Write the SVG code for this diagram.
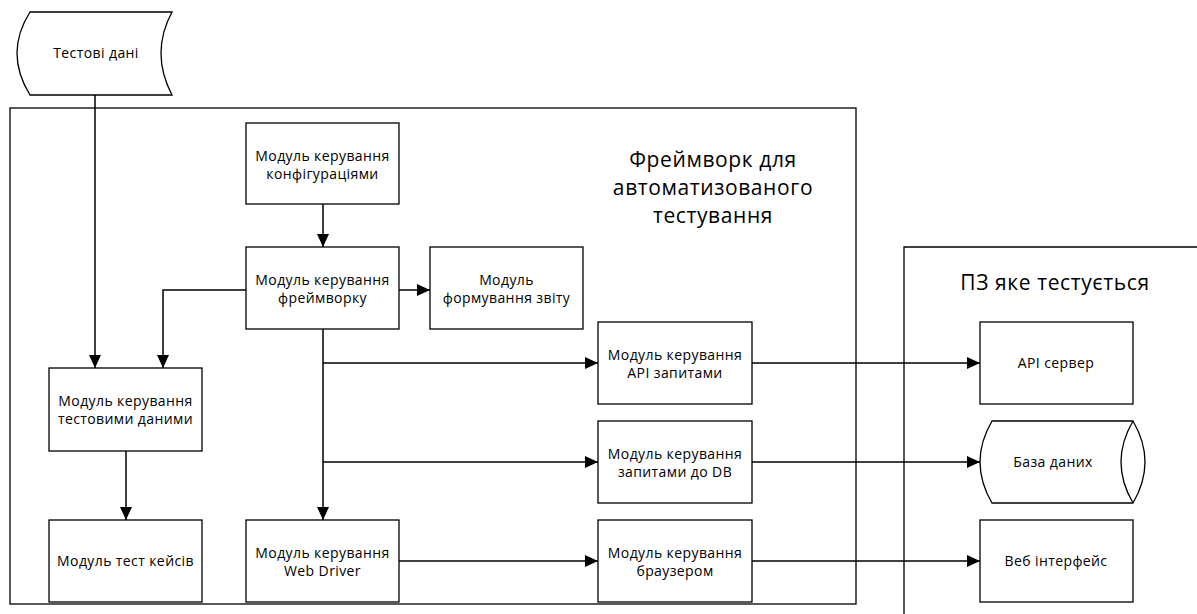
<svg xmlns="http://www.w3.org/2000/svg" width="1197" height="614" viewBox="0 0 1197 614">
<defs>
<style>
.b{fill:#fff;stroke:#000;stroke-width:1.3}
.f{fill:none;stroke:#000;stroke-width:1.3}
.t{font-family:"Open Sans","Liberation Sans",sans-serif;font-size:14px;letter-spacing:0.4px;fill:#000;text-anchor:middle}
.h{font-family:"Open Sans","Liberation Sans",sans-serif;font-size:21px;letter-spacing:0.6px;fill:#000;text-anchor:middle}
.c{fill:none;stroke:#000;stroke-width:1.5}
</style>
<marker id="a" markerWidth="14" markerHeight="12" refX="13" refY="6" orient="auto" markerUnits="userSpaceOnUse">
<path d="M0,0 L13,6 L0,12 Z" fill="#000"/>
</marker>
</defs>
<rect width="1197" height="614" fill="#fff"/>
<g id="framework">
<rect class="f" x="10" y="108" width="846" height="496"/>
<text class="h" x="713" y="167">Фреймворк для</text>
<text class="h" x="713" y="195">автоматизованого</text>
<text class="h" x="713" y="223">тестування</text>
</g>
<g id="sut">
<path class="f" d="M1197,247 L904,247 L904,614"/>
<text class="h" x="1055" y="290">ПЗ яке тестується</text>
</g>
<g id="testdata">
<path class="b" d="M30,12 L172,12 Q150,53 172,95 L30,95 Q4,53 30,12 Z"/>
<text class="t" x="96" y="58">Тестові дані</text>
</g>
<g id="config">
<rect class="b" x="246" y="123" width="153" height="81"/>
<text class="t" x="322.5" y="161">Модуль керування</text>
<text class="t" x="322.5" y="179">конфігураціями</text>
</g>
<g id="fwmodule">
<rect class="b" x="246" y="247" width="153" height="82"/>
<text class="t" x="322.5" y="285">Модуль керування</text>
<text class="t" x="322.5" y="303">фреймворку</text>
</g>
<g id="report">
<rect class="b" x="430" y="247" width="153" height="82"/>
<text class="t" x="506.5" y="285">Модуль</text>
<text class="t" x="506.5" y="303">формування звіту</text>
</g>
<g id="tdmodule">
<rect class="b" x="49" y="368" width="153" height="83"/>
<text class="t" x="125.5" y="406">Модуль керування</text>
<text class="t" x="125.5" y="424">тестовими даними</text>
</g>
<g id="testcases">
<rect class="b" x="49" y="520" width="153" height="82"/>
<text class="t" x="125.5" y="566">Модуль тест кейсів</text>
</g>
<g id="webdriver">
<rect class="b" x="246" y="520" width="153" height="82"/>
<text class="t" x="322.5" y="558">Модуль керування</text>
<text class="t" x="322.5" y="576">Web Driver</text>
</g>
<g id="apimodule">
<rect class="b" x="598" y="322" width="154" height="82"/>
<text class="t" x="675" y="360">Модуль керування</text>
<text class="t" x="675" y="378">API запитами</text>
</g>
<g id="dbmodule">
<rect class="b" x="598" y="421" width="154" height="82"/>
<text class="t" x="675" y="459">Модуль керування</text>
<text class="t" x="675" y="477">запитами до DB</text>
</g>
<g id="browsermodule">
<rect class="b" x="598" y="520" width="154" height="82"/>
<text class="t" x="675" y="558">Модуль керування</text>
<text class="t" x="675" y="576">браузером</text>
</g>
<g id="apiserver">
<rect class="b" x="980" y="322" width="153" height="82"/>
<text class="t" x="1056" y="368">API сервер</text>
</g>
<g id="database">
<path class="b" d="M992,421 L1133,421 Q1157,462 1133,503 L992,503 Q968,462 992,421 Z"/>
<path class="f" d="M1133,421 Q1109,462 1133,503"/>
<text class="t" x="1053" y="467">База даних</text>
</g>
<g id="webui">
<rect class="b" x="980" y="520" width="153" height="82"/>
<text class="t" x="1056" y="566">Веб інтерфейс</text>
</g>
<g id="connectors">
<path class="c" d="M95,95 L95,368" marker-end="url(#a)"/>
<path class="c" d="M246,290 L163,290 L163,368" marker-end="url(#a)"/>
<path class="c" d="M323,204 L323,247" marker-end="url(#a)"/>
<path class="c" d="M399,290 L430,290" marker-end="url(#a)"/>
<path class="c" d="M126,451 L126,520" marker-end="url(#a)"/>
<path class="c" d="M323,329 L323,520" marker-end="url(#a)"/>
<path class="c" d="M323,363 L598,363" marker-end="url(#a)"/>
<path class="c" d="M323,462 L598,462" marker-end="url(#a)"/>
<path class="c" d="M399,561 L598,561" marker-end="url(#a)"/>
<path class="c" d="M752,363 L980,363" marker-end="url(#a)"/>
<path class="c" d="M752,462 L980,462" marker-end="url(#a)"/>
<path class="c" d="M752,561 L980,561" marker-end="url(#a)"/>
</g>
</svg>
